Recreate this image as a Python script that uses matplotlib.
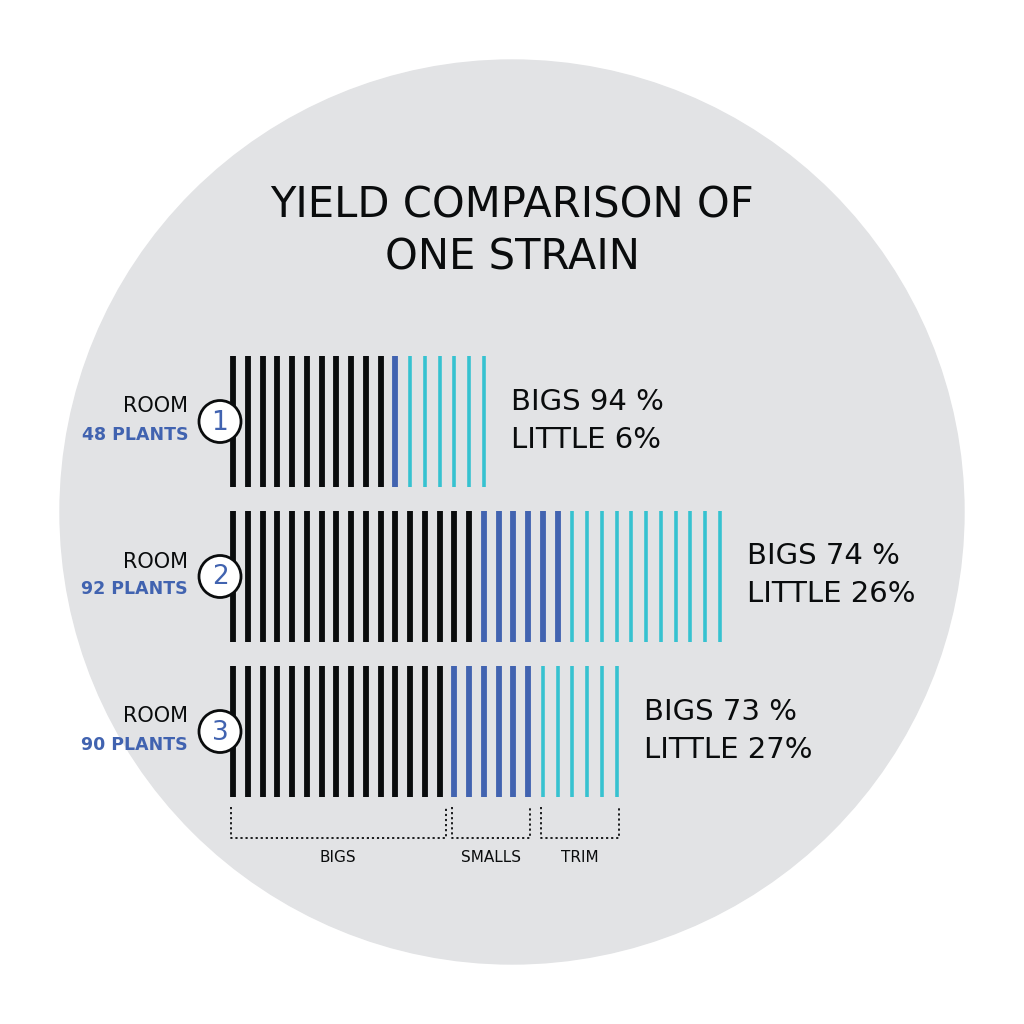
import matplotlib.pyplot as plt
import matplotlib.patches as patches

# data
rooms = ['1', '2', '3']
plants = ['48 PLANTS', '92 PLANTS', '90 PLANTS']
n_bigs = [11, 17, 15]
n_smalls = [1, 6, 6]
n_trim = [6, 11, 6]
bigs_pct = [94, 74, 73]
little_pct = [6, 26, 27]
categories = ['BIGS', 'SMALLS', 'TRIM']

BLACK = '#0a0c0d'
BLUE = '#4163b0'
CYAN = '#36c2d0'
BG = '#e2e3e5'

fig = plt.figure(figsize=(10.24, 10.24), dpi=100)
ax = fig.add_axes([0, 0, 1, 1])
ax.set_xlim(0, 1024)
ax.set_ylim(1024, 0)
ax.axis('off')

ax.add_patch(patches.Circle((512, 512), 452, color=BG, zorder=0))

ax.text(512, 205, 'YIELD COMPARISON OF', ha='center', va='center', fontsize=30, color=BLACK)
ax.text(512, 258, 'ONE STRAIN', ha='center', va='center', fontsize=30, color=BLACK)

x0 = 233
pitch = 14.75
row_top = [356, 511, 666]
row_h = 131

for i in range(len(rooms)):
    top = row_top[i]
    bot = top + row_h
    mid = (top + bot) / 2
    k = 0
    for n, col, lw in [(n_bigs[i], BLACK, 4.2), (n_smalls[i], BLUE, 4.2), (n_trim[i], CYAN, 2.6)]:
        xs = [x0 + pitch * (k + j) for j in range(n)]
        ax.vlines(xs, top, bot, colors=col, linewidth=lw, zorder=2)
        k += n
    xend = x0 + pitch * (k - 1)
    ax.add_patch(patches.Circle((220, mid), 21, facecolor='white', edgecolor=BLACK,
                                linewidth=2, zorder=3))
    ax.text(220, mid + 1, rooms[i], ha='center', va='center', fontsize=19, color=BLUE, zorder=4)
    ax.text(188, mid - 15, 'ROOM', ha='right', va='center', fontsize=15, color=BLACK)
    ax.text(188, mid + 13, plants[i], ha='right', va='center', fontsize=12.5,
            color=BLUE, fontweight='bold')
    tx = xend + 27
    ax.text(tx, mid - 20, f'BIGS {bigs_pct[i]} %', ha='left', va='center', fontsize=21, color=BLACK)
    ax.text(tx, mid + 18, f'LITTLE {little_pct[i]}%', ha='left', va='center', fontsize=21, color=BLACK)

# brackets under room 3
starts = [0, n_bigs[2], n_bigs[2] + n_smalls[2]]
counts = [n_bigs[2], n_smalls[2], n_trim[2]]
for lab, s, n in zip(categories, starts, counts):
    xa = x0 + pitch * s - 2
    xb = x0 + pitch * (s + n - 1) + 2
    if lab == 'BIGS':
        xb += 4
    ax.plot([xa, xa, xb, xb], [807, 838, 838, 807], color=BLACK, linestyle=(0, (1.2, 1.6)),
            linewidth=1.3)
    ax.text((xa + xb) / 2, 857, lab, ha='center', va='center', fontsize=11, color=BLACK)

fig.savefig('out.png', dpi=100, facecolor='white')
